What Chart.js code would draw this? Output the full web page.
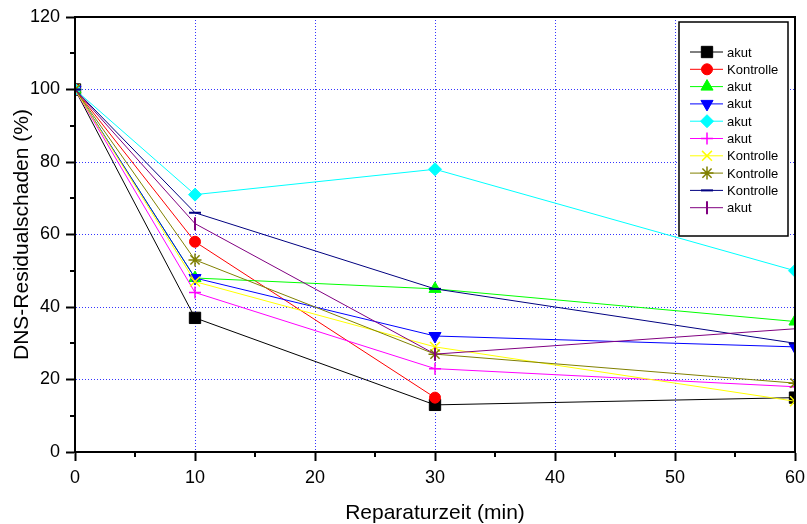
<!DOCTYPE html>
<html>
<head>
<meta charset="utf-8">
<script src="https://cdn.jsdelivr.net/npm/chart.js@4/dist/chart.umd.min.js"></script>
<style>
  html, body { margin: 0; padding: 0; background: #fff; }
  #wrap { width: 807px; height: 524px; }
</style>
</head>
<body>
<div id="wrap"><canvas id="chart"></canvas></div>
<script>
// Data
const times = [0, 10, 30, 60];
const seriesLabels = ["akut", "Kontrolle", "akut", "akut", "akut", "akut", "Kontrolle", "Kontrolle", "Kontrolle", "akut"];
const akutSquare = [100, 37, 13, 15];
const kontrolleCircle = [100, 58, 15, null];
const akutTriangle = [100, 48, 45, 36];
const akutDown = [100, 48, 32, 29];
const akutDiamond = [100, 71, 78, 50];
const akutPlus = [100, 44, 23, 18];
const kontrolleX = [100, 47, 29, 14];
const kontrolleStar = [100, 53, 27, 19];
const kontrolleDash = [100, 66, 45, 30];
const akutBar = [100, 63, 27, 34];
const xTicks = [0, 10, 20, 30, 40, 50, 60];
const yTicks = [0, 20, 40, 60, 80, 100, 120];
const xMinor = [5, 15, 25, 35, 45, 55];
const yMinor = [10, 30, 50, 70, 90, 110];

// Styles
const series = [
  { values: akutSquare, color: "#000000", style: "rect", radius: 8, rot: 0, bw: 1 },
  { values: kontrolleCircle, color: "#ff0000", style: "circle", radius: 5.5, rot: 0, bw: 1 },
  { values: akutTriangle, color: "#00ff00", style: "triangle", radius: 7, rot: 0, bw: 1 },
  { values: akutDown, color: "#0000ff", style: "triangle", radius: 7, rot: 180, bw: 1 },
  { values: akutDiamond, color: "#00ffff", style: "rectRot", radius: 6.5, rot: 0, bw: 1 },
  { values: akutPlus, color: "#ff00ff", style: "cross", radius: 6, rot: 0, bw: 1.5 },
  { values: kontrolleX, color: "#ffff00", style: "crossRot", radius: 7, rot: 0, bw: 1.5 },
  { values: kontrolleStar, color: "#808000", style: "star", radius: 6.5, rot: 0, bw: 1.5 },
  { values: kontrolleDash, color: "#000080", style: "line", radius: 6, rot: 0, bw: 2 },
  { values: akutBar, color: "#800080", style: "line", radius: 6.5, rot: 90, bw: 2 },
];

const FONT = "'Liberation Sans', Arial, sans-serif";

const datasets = series.map((s, i) => ({
  label: seriesLabels[i],
  data: times.map((t, j) => ({ x: t, y: s.values[j] })),
  borderColor: s.color,
  backgroundColor: s.color,
  borderWidth: 1,
  pointStyle: s.style,
  pointRotation: s.rot,
  pointRadius: s.radius,
  pointBackgroundColor: s.color,
  pointBorderColor: s.color,
  pointBorderWidth: s.bw,
  tension: 0,
  order: series.length - i,
}));

// Frame with minor ticks on left and bottom
const framePlugin = {
  id: "frame",
  afterDatasetsDraw(chart) {
    const { ctx, chartArea: a, scales: { x, y } } = chart;
    ctx.save();
    ctx.strokeStyle = "#000";
    ctx.lineWidth = 2;
    ctx.strokeRect(a.left, a.top, a.right - a.left, a.bottom - a.top);
    ctx.beginPath();
    xMinor.forEach((v) => {
      const px = Math.round(x.getPixelForValue(v));
      ctx.moveTo(px, a.bottom);
      ctx.lineTo(px, a.bottom + 5);
    });
    yMinor.forEach((v) => {
      const py = Math.round(y.getPixelForValue(v));
      ctx.moveTo(a.left, py);
      ctx.lineTo(a.left - 5, py);
    });
    ctx.stroke();
    ctx.restore();
  },
};

// Boxed legend, line segment + marker per series
const legendPlugin = {
  id: "boxLegend",
  afterDatasetsDraw(chart) {
    const { ctx } = chart;
    const box = { left: 679, top: 22, width: 109, height: 214 };
    ctx.save();
    ctx.fillStyle = "#fff";
    ctx.fillRect(box.left, box.top, box.width, box.height);
    ctx.strokeStyle = "#000";
    ctx.lineWidth = 1.5;
    ctx.strokeRect(box.left, box.top, box.width, box.height);
    ctx.font = "13px " + FONT;
    ctx.textBaseline = "middle";
    series.forEach((s, i) => {
      const yy = 52 + i * 17.3;
      ctx.strokeStyle = s.color;
      ctx.fillStyle = s.color;
      ctx.lineWidth = 1;
      ctx.beginPath();
      ctx.moveTo(690, yy);
      ctx.lineTo(723, yy);
      ctx.stroke();
      ctx.lineWidth = s.bw;
      Chart.helpers.drawPoint(ctx, {
        pointStyle: s.style, rotation: s.rot, radius: s.radius, borderWidth: s.bw,
      }, 707, yy);
      ctx.fillStyle = "#000";
      ctx.fillText(seriesLabels[i], 727, yy + 1);
    });
    ctx.restore();
  },
};

const gridColor = (edgeMin, edgeMax) => (c) =>
  c.tick && c.tick.value > edgeMin && c.tick.value < edgeMax ? "rgba(30,30,255,0.9)" : "rgba(0,0,0,0)";

new Chart(document.getElementById("chart"), {
  type: "line",
  data: { datasets },
  plugins: [framePlugin, legendPlugin],
  options: {
    responsive: true,
    maintainAspectRatio: false,
    animation: false,
    events: [],
    layout: { padding: { left: 0, right: 12, top: 17, bottom: 0 } },
    plugins: { legend: { display: false }, tooltip: { enabled: false } },
    scales: {
      x: {
        type: "linear",
        min: 0,
        max: 60,
        afterFit: (s) => { s.height = 72; s.paddingLeft = 0; s.paddingRight = 0; },
        afterBuildTicks: (s) => { s.ticks = xTicks.map((v) => ({ value: v })); },
        ticks: { color: "#000", font: { family: FONT, size: 18 }, padding: 6, maxRotation: 0 },
        grid: { color: gridColor(0, 60), lineWidth: 1, tickColor: "#000", tickWidth: 2, tickLength: 9 },
        border: { color: "#000", width: 2, dash: [1, 2] },
        title: {
          display: true,
          text: "Reparaturzeit (min)",
          color: "#000",
          font: { family: FONT, size: 21, lineHeight: 1 },
          padding: { top: 0, bottom: 0 },
        },
      },
      y: {
        min: 0,
        max: 120,
        afterFit: (s) => { s.width = 75; s.paddingTop = 0; s.paddingBottom = 0; },
        afterBuildTicks: (s) => { s.ticks = yTicks.map((v) => ({ value: v })); },
        ticks: { color: "#000", font: { family: FONT, size: 18 }, padding: 6 },
        grid: { color: gridColor(0, 120), lineWidth: 1, tickColor: "#000", tickWidth: 2, tickLength: 9 },
        border: { color: "#000", width: 2, dash: [1, 2] },
        title: {
          display: true,
          text: "DNS-Residualschaden (%)",
          color: "#000",
          font: { family: FONT, size: 21, lineHeight: 1 },
          padding: { top: 12, bottom: 0 },
        },
      },
    },
  },
});
</script>
</body>
</html>
